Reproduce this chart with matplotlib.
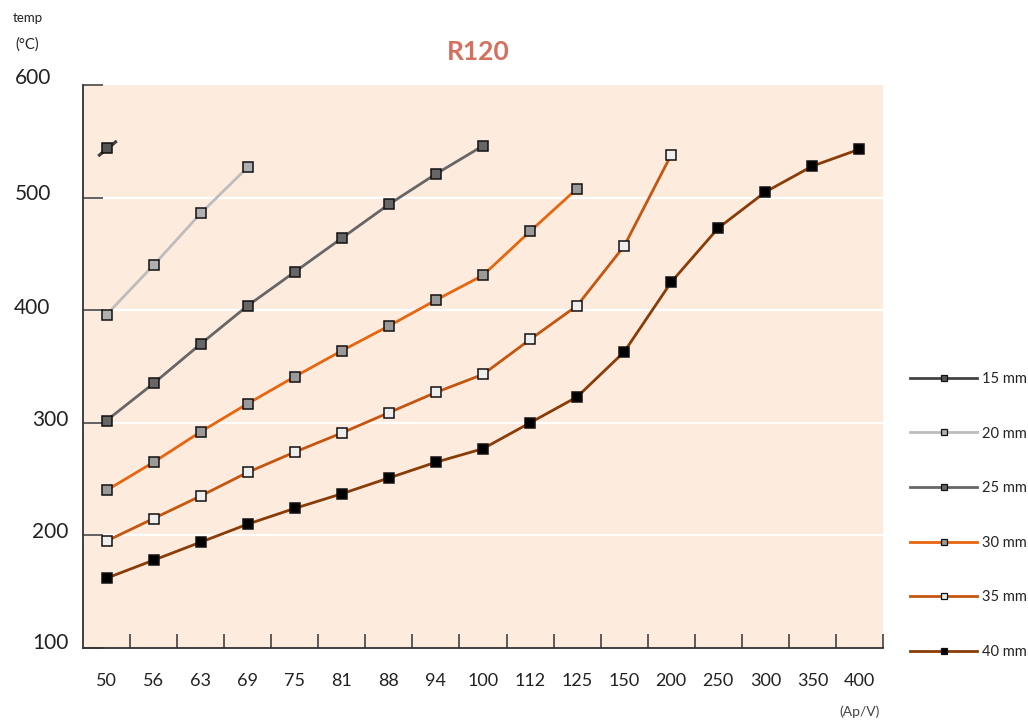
import matplotlib
matplotlib.use("Agg")
import matplotlib.pyplot as plt
from matplotlib.lines import Line2D
from matplotlib.transforms import blended_transform_factory, ScaledTranslation

plt.rcParams['font.family'] = ['Lato', 'DejaVu Sans']

categories = ["50", "56", "63", "69", "75", "81", "88", "94", "100", "112",
              "125", "150", "200", "250", "300", "350", "400"]

s15 = [544]
s20 = [396, 440, 486, 527]
s25 = [302, 335, 370, 404, 434, 464, 494, 521, 546]
s30 = [240, 265, 292, 317, 341, 364, 386, 409, 431, 470, 508]
s35 = [195, 215, 235, 256, 274, 291, 309, 327, 343, 374, 404, 457, 538]
s40 = [162, 178, 194, 210, 224, 237, 251, 265, 277, 300, 323, 363, 425, 473, 505, 528, 543]

series_labels = ["15 mm", "20 mm", "25 mm", "30 mm", "35 mm", "40 mm"]
y_ticks = [100, 200, 300, 400, 500, 600]

line_colors = ["#444444", "#bdbdbd", "#666666", "#e8650f", "#c4560f", "#8a3c08"]
face_colors = ["#555555", "#b0b0b0", "#666666", "#9a9a9a", "#eeeeee", "#000000"]

fig = plt.figure(figsize=(10.28, 7.22), dpi=100)
ax = fig.add_axes([83/1028, 1-648/722, 800/1028, 563/722])
ax.set_facecolor("#fdebdd")
ax.set_xlim(-0.5, len(categories) - 0.5)
ax.set_ylim(100, 600)

# gridlines
for yv in y_ticks[1:-1]:
    ax.axhline(yv, color="white", lw=1.6, zorder=1)

data = [s15, s20, s25, s30, s35, s40]
for i, ys in enumerate(data):
    xs = list(range(len(ys)))
    if len(ys) == 1:
        ax.plot(xs, ys, linestyle="none", marker=(2, 2, -51), markersize=17,
                markeredgecolor=line_colors[i], markeredgewidth=2, zorder=3)
    ax.plot(xs, ys, color=line_colors[i], lw=2, marker="s", markersize=6.5,
            markerfacecolor=face_colors[i], markeredgecolor="#111111",
            markeredgewidth=1.1, zorder=4)

# spines
for sp in ["top", "right"]:
    ax.spines[sp].set_visible(False)
for sp in ["left", "bottom"]:
    ax.spines[sp].set_color("#333333")
    ax.spines[sp].set_linewidth(1.3)

# x ticks: labels at centers, tick marks at boundaries
ax.set_xticks(range(len(categories)))
ax.set_xticklabels(categories, fontsize=13, color="#222222")
ax.tick_params(axis="x", which="major", length=0, pad=18)
ax.set_xticks([k + 0.5 for k in range(len(categories))], minor=True)
ax.tick_params(axis="x", which="minor", direction="in", length=10, width=1.1, color="#333333")

# y ticks: inward marks, custom staggered labels
ax.set_yticks(y_ticks)
ax.set_yticklabels([])
ax.tick_params(axis="y", direction="in", length=14.5, width=1.3, color="#555555")

ylab_x = [32, 32, 32, 14, 15, 15]
ylab_dy = [5, 3, 3, 2, 4, 7]
bt = blended_transform_factory(fig.transFigure, ax.transData)
for yv, xp, dy in zip(y_ticks, ylab_x, ylab_dy):
    tr = bt + ScaledTranslation(0, dy / 100, fig.dpi_scale_trans)
    ax.text(xp / 1028, yv, str(yv), transform=tr, ha="left", va="center",
            fontsize=15, color="#222222")

fig.text(13/1028, 1-18/722, "temp", fontsize=9.5, ha="left", va="center", color="#222222")
fig.text(15/1028, 1-45/722, "(°C)", fontsize=10.5, ha="left", va="center", color="#222222")
fig.text(880/1028, 1-712/722, "(Ap/V)", fontsize=10, ha="right", va="center", color="#444444")
fig.text(478/1028, 1-52/722, "R120", fontsize=19, fontweight="bold", ha="center",
         va="center", color="#d4705f")

handles = [Line2D([0], [0], color=c, lw=2, marker="s", markersize=4.5,
                  markerfacecolor=f, markeredgecolor="#111111", markeredgewidth=0.9)
           for c, f in zip(line_colors, face_colors)]
fig.legend(handles, series_labels, loc="upper left", bbox_to_anchor=(910/1028, 1-372/722),
           frameon=False, fontsize=10.5, handlelength=4.6, handletextpad=0.35,
           labelspacing=2.78, borderpad=0, borderaxespad=0, labelcolor="#222222")

fig.savefig("out.png", dpi=100)
